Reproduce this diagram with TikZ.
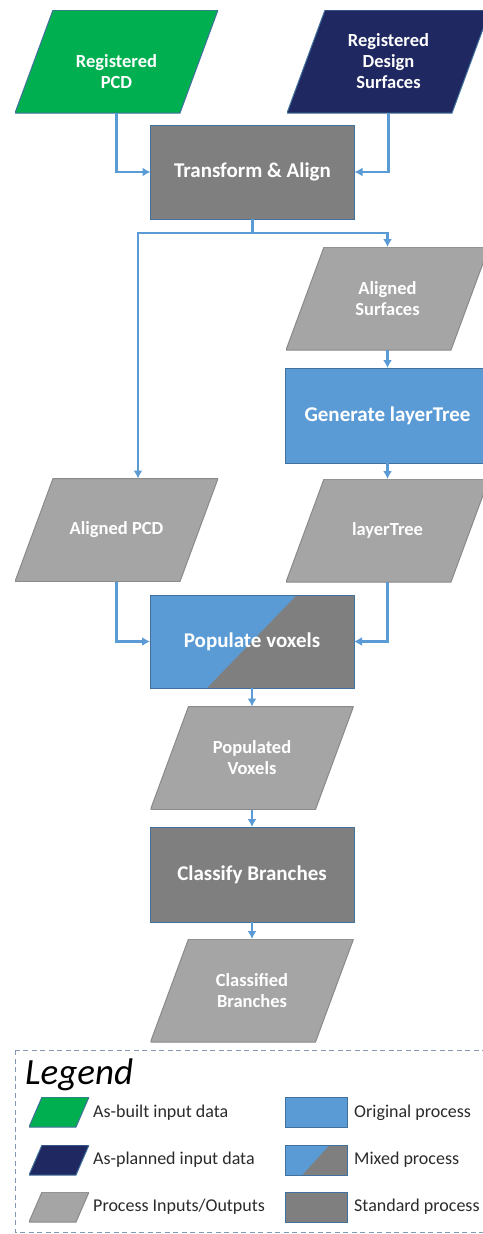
\documentclass[tikz,border=0pt]{standalone}
\usepackage{fontspec}
\setmainfont{Carlito}
\usetikzlibrary{arrows.meta,calc}
\definecolor{cgreen}{HTML}{00B050}
\definecolor{cnavy}{HTML}{1F2860}
\definecolor{cblue}{HTML}{5B9BD5}
\definecolor{cdgray}{HTML}{7F7F7F}
\definecolor{clgray}{HTML}{A5A5A5}
\definecolor{cborder}{HTML}{41719C}
\definecolor{ciodraw}{HTML}{8A8A8A}
\definecolor{carrow}{HTML}{5B9BD5}
\definecolor{cframe}{HTML}{8497B0}
\definecolor{ctext}{HTML}{2B2B2B}
\tikzset{
  paraslant/.store in=\paraslantamt, paraslant=38pt,
  iodraw/.store in=\iodrawcol, iodraw=ciodraw,
  io/.style={rectangle, inner sep=0pt, outer sep=0pt, draw=none,
    text=white, font=\fontsize{18.5}{21}\selectfont\bfseries, align=center,
    minimum width=203pt, minimum height=103pt,
    path picture={\filldraw[fill=#1, draw=\iodrawcol, line width=1pt]
      ([xshift=\paraslantamt]path picture bounding box.north west) --
      (path picture bounding box.north east) --
      ([xshift=-\paraslantamt]path picture bounding box.south east) --
      (path picture bounding box.south west) -- cycle;}},
  proc/.style={rectangle, inner sep=0pt, outer sep=0pt, fill=#1, draw=cborder,
    line width=0.75pt, text=white, font=\fontsize{21}{25}\selectfont\bfseries,
    minimum width=204pt, minimum height=94pt},
  mixed/.style={proc=cblue,
    path picture={\fill[cdgray]
      ($(path picture bounding box.north west)!0.72!(path picture bounding box.north east)$) --
      (path picture bounding box.north east) --
      (path picture bounding box.south east) --
      ($(path picture bounding box.south west)!0.28!(path picture bounding box.south east)$) -- cycle;}},
  arr/.style={draw=carrow, line width=2.8pt, -{Latex[length=8pt,width=9pt]}},
  plainline/.style={draw=carrow, line width=2.8pt},
  legframe/.style={draw=cframe, line width=1pt, dash pattern=on 5pt off 3.5pt},
  legtext/.style={anchor=west, inner sep=0pt, text=ctext, font=\fontsize{18}{21}\selectfont},
  legpara/.style={io=#1, paraslant=13pt, minimum width=60pt, minimum height=30pt},
  legbox/.style={proc=#1, minimum width=62pt, minimum height=30pt},
  legmixed/.style={mixed, minimum width=62pt, minimum height=30pt}
}
\begin{document}
\begin{tikzpicture}[x=1pt,y=-1pt]
\useasboundingbox[fill=white] (0,0) rectangle (482,1234);

% main flow
\node[io=cgreen, iodraw=cborder] (pcd) at (116.5,61.5) {\mbox{}\\[13pt]Registered\\PCD};
\node[io=cnavy, iodraw=cborder] (ds) at (388.5,61.5) {Registered\\Design\\Surfaces};
\node[proc=cdgray] (ta) at (252.5,172) {Transform \& Align};
\node[io=clgray] (as) at (387.5,298.5) {Aligned\\Surfaces};
\node[proc=cblue, minimum width=205pt, minimum height=95pt] (gl) at (387.5,415.5) {Generate layerTree};
\node[io=clgray] (apcd) at (116.5,530) {Aligned PCD};
\node[io=clgray] (lt) at (387.5,530.5) {layerTree};
\node[mixed, minimum height=93pt] (pv) at (252,641.5) {Populate voxels};
\node[io=clgray] (pvox) at (252,758) {Populated\\Voxels};
\node[proc=cdgray, minimum height=95pt] (cb) at (252,874.5) {Classify Branches};
\node[io=clgray] (cl) at (252,990.5) {Classified\\Branches};

% connectors
\draw[arr] (pcd.south) |- (ta.west);
\draw[arr] (ds.south) |- (ta.east);
\coordinate (split) at ($(ta.south)+(0,14)$);
\draw[plainline] (ta.south) -- (split);
\draw[arr] (split) -| ([xshift=21.5pt]apcd.north);
\draw[arr] (split) -| (as.north);
\draw[arr] (as.south) -- (gl.north);
\draw[arr] (gl.south) -- (lt.north);
\draw[arr] (apcd.south) |- (pv.west);
\draw[arr] (lt.south) |- (pv.east);
\draw[arr] (pv.south) -- (pvox.north);
\draw[arr] (pvox.south) -- (cb.north);
\draw[arr] (cb.south) -- (cl.north);

% legend
\draw[legframe] (15,1050) rectangle (494,1232);
\node[anchor=base west, inner sep=0pt, text=black, font=\fontsize{37}{42}\selectfont\itshape] (legtitle) at (25,1084) {Legend};
\node[legpara=cgreen, iodraw=cborder] (lg1) at (59,1112) {};
\node[legpara=cnavy, iodraw=cborder] (lg2) at (59,1160) {};
\node[legpara=clgray] (lg3) at (59,1207) {};
\node[legtext] (lt1) at (93,1113) {As-built input data};
\node[legtext] (lt2) at (93,1160) {As-planned input data};
\node[legtext] (lt3) at (93,1207) {Process Inputs/Outputs};
\node[legbox=cblue] (lb1) at (316,1112) {};
\node[legmixed] (lb2) at (316,1160) {};
\node[legbox=cdgray] (lb3) at (316,1207) {};
\node[legtext] (lr1) at (354,1113) {Original process};
\node[legtext] (lr2) at (354,1160) {Mixed process};
\node[legtext] (lr3) at (354,1207) {Standard process};
\end{tikzpicture}
\end{document}
